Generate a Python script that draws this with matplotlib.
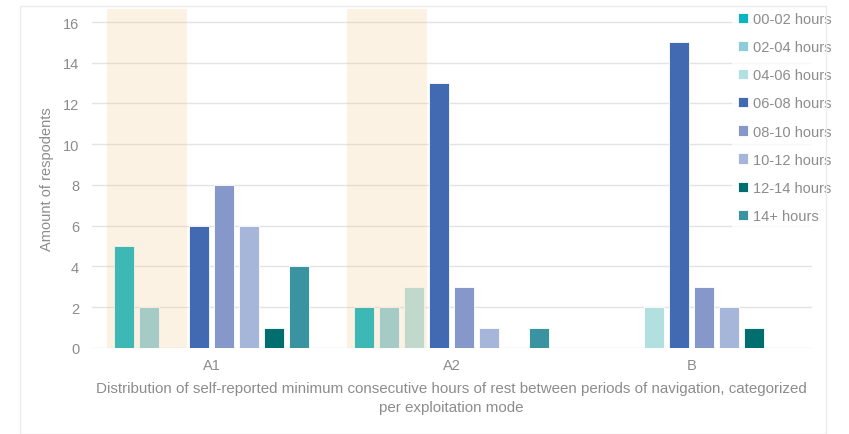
import numpy as np
import matplotlib.pyplot as plt
from matplotlib.patches import Rectangle

plt.rcParams['font.family'] = ['Liberation Sans', 'DejaVu Sans']

modes = ['A1', 'A2', 'B']
series = ['00-02 hours', '02-04 hours', '04-06 hours', '06-08 hours',
          '08-10 hours', '10-12 hours', '12-14 hours', '14+ hours']
counts = [
    [5, 2, 0],
    [2, 2, 0],
    [0, 3, 2],
    [6, 13, 15],
    [8, 3, 3],
    [6, 1, 2],
    [1, 0, 1],
    [4, 1, 0],
]
colors = ['#0BB5C3', '#8ECDD7', '#B2DFE0', '#416AB3',
          '#8697CA', '#A6B6DA', '#006E6F', '#3A93A0']
grey = '#8C8C8C'

fig = plt.figure(figsize=(8.49, 4.35), dpi=100)
ax = fig.add_axes([0.108, 0.198, 0.848, 0.779])

x = np.arange(len(modes))
slot = 25 / 240
width = 20 / 240
for i, (name, vals) in enumerate(zip(series, counts)):
    off = (i - 3.5) * slot
    ax.bar(x + off, vals, width, color=colors[i], label=name,
           edgecolor='white', linewidth=0.6, zorder=2)

# highlighted bands over the first three slots of A1 and A2
for g in [0, 1]:
    ax.axvspan(g - 0.4375, g - 0.104, color='#F5C585', alpha=0.22,
               lw=0, zorder=3)

ax.set_xlim(-0.5, 2.5)
ax.set_ylim(0, 16.64)
ax.set_yticks(np.arange(0, 17, 2))
ax.set_xticks(x)
ax.set_xticklabels(modes)
ax.tick_params(length=0, colors=grey, labelsize=10.5)
ax.tick_params(axis='y', pad=9)
ax.tick_params(axis='x', pad=7)
ax.grid(axis='y', color='#E3E3E3', lw=1, zorder=0)
ax.set_axisbelow(True)
for s in ax.spines.values():
    s.set_visible(False)

ax.set_ylabel('Amount of respodents', color=grey, fontsize=10.5, labelpad=6)
ax.set_xlabel('Distribution of self-reported minimum consecutive hours of rest '
              'between periods of navigation, categorized\nper exploitation mode',
              color=grey, fontsize=10.9, labelpad=7, linespacing=1.4)

leg = ax.legend(loc='upper left', bbox_to_anchor=(0.879, 1.03), frameon=True,
                fontsize=10.5, labelcolor=grey, handlelength=0.7,
                handleheight=0.7, handletextpad=0.35, labelspacing=0.97,
                borderpad=0.4, fancybox=False)
leg.get_frame().set_edgecolor('none')
leg.get_frame().set_facecolor('white')
leg.set_zorder(5)

fig.patches.append(Rectangle((20 / 849, 0), 806 / 849, 1 - 7 / 435,
                             transform=fig.transFigure, fill=False,
                             edgecolor='#EBEBEB', lw=1, zorder=0))

fig.savefig('out.png', dpi=100)
